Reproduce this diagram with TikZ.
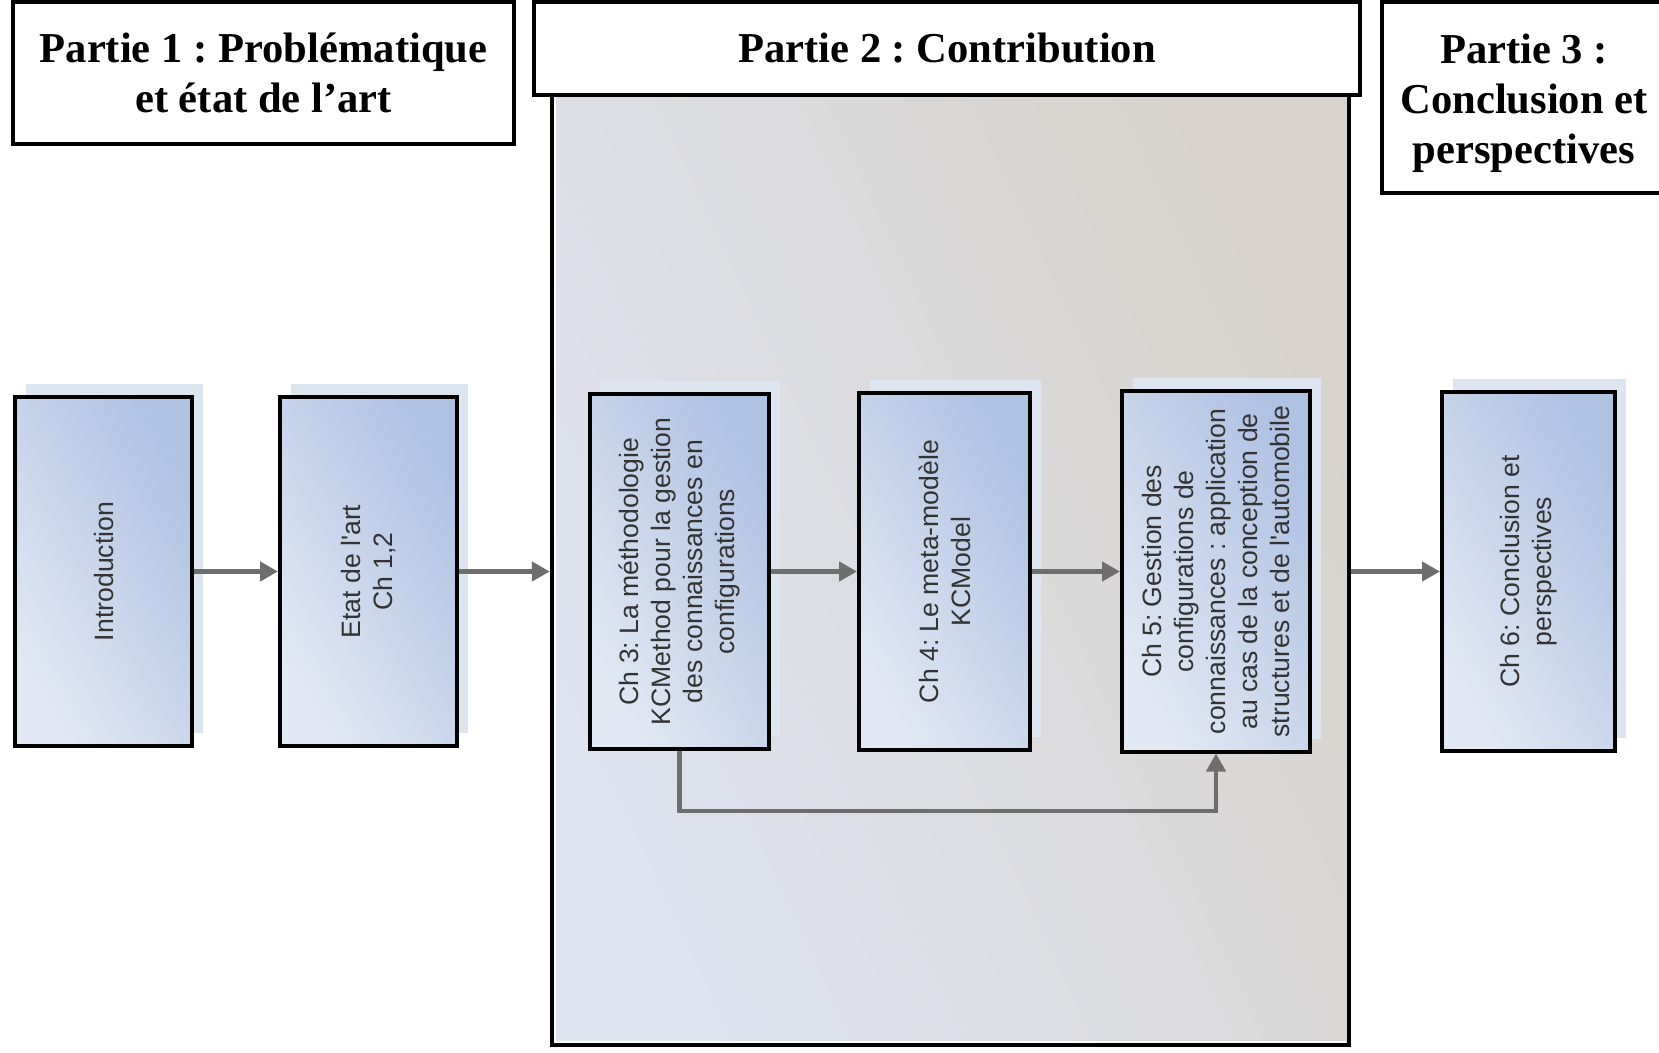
\documentclass[tikz,border=0pt]{standalone}
\usepackage{fontspec}
\setmainfont{Liberation Serif}
\newfontfamily\arialf{Liberation Sans}
\usetikzlibrary{arrows.meta,shadows}
\definecolor{boxlight}{HTML}{E2E8F4}
\definecolor{boxdark}{HTML}{AEC2E2}
\definecolor{shadowc}{HTML}{DDE5F1}
\definecolor{panelL}{HTML}{DEE3F0}
\definecolor{panelR}{HTML}{D8D3CC}
\definecolor{arrowc}{HTML}{6E6E6E}
\definecolor{txtc}{HTML}{333333}
\begin{document}
\frenchspacing
\begin{tikzpicture}[x=0.5pt,y=-0.5pt,
  header/.style={draw=black, line width=2.3pt, fill=white, inner sep=0pt},
  headertext/.style={align=center, inner sep=0pt, font=\fontsize{21.3}{24.9}\selectfont\bfseries},
  chbox/.style={draw=black, line width=2pt, left color=boxlight, right color=boxdark,
    shading angle=120, inner sep=0pt,
    general shadow={fill=shadowc, draw=none, shadow xshift=5.5pt, shadow yshift=6.5pt}},
  chtext/.style={rotate=90, align=center, text=txtc, font=\arialf\fontsize{13.3}{15.9}\selectfont},
  flow/.style={draw=arrowc, line width=2.4pt, -{Triangle[length=9pt,width=9.5pt]}},
  panelbox/.style={draw=black, line width=2.2pt, left color=panelL, right color=panelR,
    shading angle=115, inner sep=0pt}
]
\useasboundingbox (0,0) rectangle (1659,1053);
\fill[white] (0,0) rectangle (1659,1053);

% contribution panel
\node[panelbox, minimum width=398.5pt, minimum height=480pt] (panel) at (950.5,565) {};
\draw[white, line width=0.8pt] ([xshift=2.5pt,yshift=-2.5pt]panel.north west) -- ([xshift=2.5pt,yshift=2.5pt]panel.south west) -- ([xshift=-2.5pt,yshift=2.5pt]panel.south east);

% headers
\node[header, minimum width=250.5pt, minimum height=71pt] (p1) at (263.5,73) {};
\node[headertext] at (p1.center) {Partie 1 : Problématique\\et état de l’art};
\node[header, minimum width=413pt, minimum height=46.5pt] (p2) at (947,48.5) {};
\node[headertext] at (p2.center) {Partie 2 : Contribution};
\node[header, minimum width=142pt, minimum height=95.5pt] (p3) at (1524,97.5) {};
\node[headertext] at ([yshift=-2.8pt]p3.center) {Partie 3 :\\Conclusion et\\perspectives};

% chapter boxes
\node[chbox, minimum width=88.5pt, minimum height=174.5pt] (intro) at (103.5,571.5) {};
\node[chtext] at (intro.center) {Introduction};
\node[chbox, minimum width=88.5pt, minimum height=174.5pt] (etat) at (368.5,571.5) {};
\node[chtext] at (etat.center) {Etat de l'art\\Ch 1,2};
\node[chbox, minimum width=89.5pt, minimum height=177.5pt] (ch3) at (679.5,571.5) {};
\node[chtext] at (ch3.center) {Ch 3: La méthodologie\\KCMethod pour la gestion\\des connaissances en\\configurations};
\node[chbox, minimum width=85.5pt, minimum height=178.5pt] (ch4) at (944.5,571.5) {};
\node[chtext] at (ch4.center) {Ch 4: Le meta-modèle\\KCModel};
\node[chbox, minimum width=94pt, minimum height=180pt] (ch5) at (1216,571.5) {};
\node[chtext] at (ch5.center) {Ch 5: Gestion des\\configurations de\\connaissances : application\\au cas de la conception de\\structures et de l'automobile};
\node[chbox, minimum width=86.5pt, minimum height=179.5pt] (ch6) at (1528.5,571.5) {};
\node[chtext] at (ch6.center) {Ch 6: Conclusion et\\perspectives};

% connectors
\draw[flow] (intro.east) -- (etat.west);
\draw[flow] (etat.east) -- (etat.east -| panel.west);
\draw[flow] (ch3.east) -- (ch4.west);
\draw[flow] (ch4.east) -- (ch5.west);
\draw[flow] (ch6.west -| panel.east) -- (ch6.west);
\draw[flow] (ch3.south) -- ++(0,60) -| (ch5.south);
\end{tikzpicture}
\end{document}
